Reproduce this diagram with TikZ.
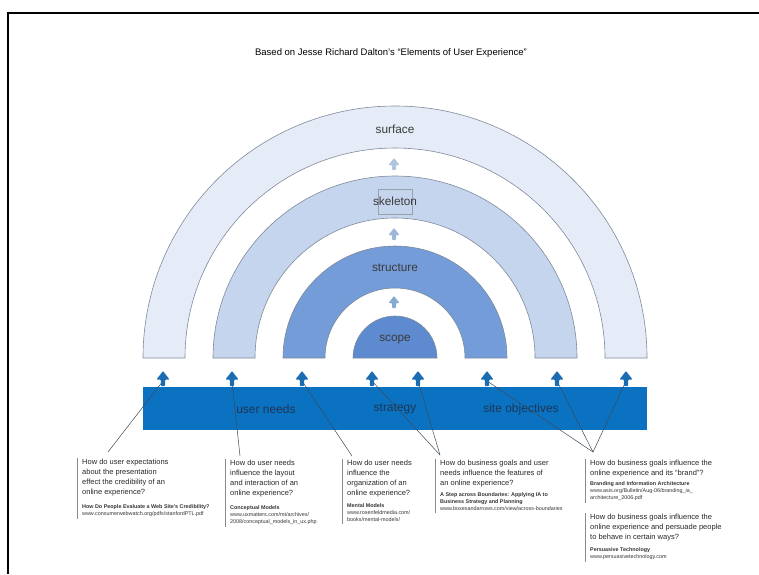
\documentclass[tikz,border=0pt]{standalone}
\usepackage{fontspec}
\setmainfont{Liberation Sans}
\usetikzlibrary{calc}

\definecolor{surfacefill}{HTML}{E6ECF7}
\definecolor{skeletonfill}{HTML}{C6D5EE}
\definecolor{structurefill}{HTML}{739CD9}
\definecolor{scopefill}{HTML}{5E8BD0}
\definecolor{ringline}{HTML}{7F8A99}
\definecolor{bandblue}{HTML}{0B72C2}
\definecolor{tipblue}{HTML}{1B6CB0}
\definecolor{midtipA}{HTML}{AFC5DF}
\definecolor{midtipB}{HTML}{9CB8D6}
\definecolor{midtipC}{HTML}{86ABD2}
\definecolor{labelgray}{HTML}{3A3A3A}
\definecolor{bandtext}{HTML}{1D3654}
\definecolor{linkline}{HTML}{3B4A5A}
\definecolor{bargray}{HTML}{8A8A8A}

\newcommand\qfont{\fontsize{7.5}{10}\selectfont}
\newcommand\rfont{\fontsize{5.4}{7.3}\selectfont}

% one half ring of the layer diagram: inner radius, outer radius, fill
\newcommand\layerring[3]{%
  \filldraw[ring, fill=#3] ({395-#2},358) arc[start angle=180, end angle=360, radius=#2]
    -- ({395+#1},358) arc[start angle=0, end angle=-180, radius=#1] -- cycle;}

% block up-arrow: name, x, tip y, colour, half head width, head height, half stem width, stem height
\newcommand\uptip[8]{%
  \coordinate (#1) at (#2,{#3+#6+#8/2});
  \fill[#4, rounded corners=0.8pt] (#2,#3) -- ++(#5,#6) -- ++({-#5+#7},0) -- ++(0,#8)
    -- ++({-2*#7},0) -- ++(0,{-#8}) -- ++({-#5+#7},0) -- cycle;}

\tikzset{
  ring/.style={draw=ringline, line width=0.6pt},
  layerlabel/.style={font=\fontsize{11.8}{13}\selectfont, text=labelgray, inner sep=1pt},
  bandlabel/.style={font=\fontsize{12}{13}\selectfont, text=bandtext, inner sep=1pt},
  question/.style={anchor=north west, inner sep=0pt, align=left, font=\qfont, text=black!85},
  reference/.style={anchor=north west, inner sep=0pt, align=left, font=\rfont, text=black!80},
  leftbar/.style={draw=bargray, line width=0.9pt},
  link/.style={draw=linkline, line width=0.5pt},
}

\begin{document}
\begin{tikzpicture}[x=1pt, y=-1pt]
\useasboundingbox (0,0) rectangle (759,574);

% page frame
\draw[line width=2.4pt] (8,574) -- (8,13) -- (759,13);

% title
\node[font=\fontsize{9.5}{11}\selectfont] (title) at (391,53)
  {Based on Jesse Richard Dalton's “Elements of User Experience”};

% the four planes
\layerring{210}{252}{surfacefill}
\layerring{140}{182}{skeletonfill}
\layerring{70}{112}{structurefill}
\filldraw[ring, fill=scopefill] (353,358) arc[start angle=180, end angle=360, radius=42] -- cycle;

\node[layerlabel] (surface) at (395,129) {surface};
\node[draw=ringline!80, line width=0.5pt, minimum width=34pt, minimum height=25pt, inner sep=0pt] (skbox) at (395,202) {};
\node[layerlabel] (skeleton) at (395,201) {skeleton};
\node[layerlabel] (structure) at (395,268) {structure};
\node[layerlabel] (scope) at (395,340) {scope};

% arrows between the planes
\uptip{m1}{394}{158}{midtipA}{5.5}{7}{2}{5}
\uptip{m2}{394}{228}{midtipB}{5.5}{7}{2}{5}
\uptip{m3}{394}{296}{midtipC}{5.5}{7}{2}{5}

% strategy band
\node[fill=bandblue, minimum width=504pt, minimum height=43pt, inner sep=0pt] (band) at (395,408.5) {};
\node[bandlabel] (userneeds) at (266,409) {user needs};
\node[bandlabel] (strategy) at (395,409) {strategy};
\node[bandlabel] (siteobj) at (521,409) {site objectives};

% question boxes
\node[question] (q1) at (82,459) {How do user expectations\\about the presentation\\effect the credibility of an\\online experience?};
\node[reference] (r1) at (82,504) {\bfseries How Do People Evaluate a Web Site's Credibility?\\www.consumerwebwatch.org/pdfs/stanfordPTL.pdf};

\node[question] (q2) at (230,460) {How do user needs\\influence the layout\\and interaction of an\\online experience?};
\node[reference] (r2) at (230,505) {\bfseries Conceptual Models\\www.uxmatters.com/mt/archives/\\2008/conceptual\_models\_in\_ux.php};

\node[question] (q3) at (347,460) {How do user needs\\influence the\\organization of an\\online experience?};
\node[reference] (r3) at (347,503) {\bfseries Mental Models\\www.rosenfeldmedia.com/\\books/mental-models/};

\node[question] (q4) at (440,460) {How do business goals and user\\needs influence the features of\\an online experience?};
\node[reference] (r4) at (440,492) {\bfseries A Step across Boundaries: Applying IA to\\\bfseries Business Strategy and Planning\\www.boxesandarrows.com/view/across-boundaries};

\node[question] (q5) at (590,460) {How do business goals influence the\\online experience and its “brand”?};
\node[reference] (r5) at (590,481) {\bfseries Branding and Information Architecture\\www.asis.org/Bulletin/Aug-06/branding\_ia\_\\architecture\_2006.pdf};

\node[question] (q6) at (590,514) {How do business goals influence the\\online experience and persuade people\\to behave in certain ways?};
\node[reference] (r6) at (590,547) {\bfseries Persuasive Technology\\www.persuasivetechnology.com};

\foreach \b in {1,...,6}{
  \draw[leftbar] ([xshift=-5pt,yshift=1pt]q\b.north west) -- ([xshift=-5pt,yshift=-2pt]r\b.south west);
}

% connector ends above the question boxes
\coordinate (k1) at (108,452);
\coordinate (k2) at (240,456);
\coordinate (k3) at (352,456);
\coordinate (k4) at (440,455);
\coordinate (k5) at (593,452);

% arrow anchors, connectors, then the arrows on top
\foreach \n/\x in {a1/163,a2/232,a3/302,a4/372,a5/418,a6/487,a7/557,a8/626}{
  \coordinate (\n) at (\x,381);
}
\draw[link] (k1) -- (a1);
\draw[link] (k2) -- (a2);
\draw[link] (k3) -- (a3);
\draw[link] (k4) -- (a4);
\draw[link] (k4) -- (a5);
\draw[link] (k5) -- (a6);
\draw[link] (k5) -- (a7);
\draw[link] (k5) -- (a8);

\foreach \n/\x in {a1/163,a2/232,a3/302,a4/372,a5/418,a6/487,a7/557,a8/626}{
  \uptip{\n}{\x}{371}{tipblue}{6.5}{8.5}{2.2}{6.5}
}
\end{tikzpicture}
\end{document}
